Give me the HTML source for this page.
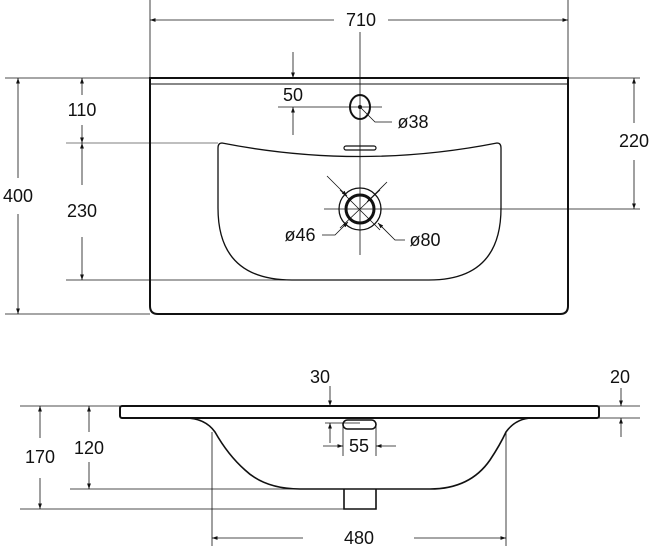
<!DOCTYPE html>
<html><head><style>
html,body{margin:0;padding:0;background:#fff;}
svg{display:block;}
text{font-family:"Liberation Sans",sans-serif;font-size:18px;fill:#111;text-anchor:middle;}
</style></head><body>
<svg width="653" height="546" viewBox="0 0 653 546" xmlns="http://www.w3.org/2000/svg">
<defs>
<marker id="a" viewBox="0 0 10 10" refX="10" refY="5" markerWidth="7" markerHeight="7" orient="auto-start-reverse"><path d="M0,1.5 L10,5 L0,8.5 z" fill="#111"/></marker>
</defs>
<g stroke="#111" stroke-width="0.8" fill="none">
<line x1="150" y1="0" x2="150" y2="78"/><line x1="568" y1="0" x2="568" y2="78"/>
<line x1="150" y1="20" x2="334" y2="20" marker-start="url(#a)"/><line x1="388" y1="20" x2="568" y2="20" marker-end="url(#a)"/>
<line x1="360" y1="32" x2="360" y2="255"/>
<line x1="5" y1="78" x2="150" y2="78"/><line x1="5" y1="314" x2="150" y2="314"/>
<line x1="66" y1="143" x2="218" y2="143" stroke="#999" stroke-width="1.2"/>
<line x1="66" y1="280" x2="300" y2="280"/>
<line x1="18" y1="78" x2="18" y2="178" marker-start="url(#a)"/><line x1="18" y1="214" x2="18" y2="314" marker-end="url(#a)"/>
<line x1="82" y1="78" x2="82" y2="95" marker-start="url(#a)"/><line x1="82" y1="125" x2="82" y2="143" marker-end="url(#a)"/>
<line x1="82" y1="143" x2="82" y2="185" marker-start="url(#a)"/><line x1="82" y1="237" x2="82" y2="280" marker-end="url(#a)"/>
<line x1="568" y1="78" x2="640" y2="78"/><line x1="324" y1="209" x2="640" y2="209"/>
<line x1="634" y1="78" x2="634" y2="123" marker-start="url(#a)"/><line x1="634" y1="160" x2="634" y2="209" marker-end="url(#a)"/>
<line x1="278" y1="107" x2="382" y2="107"/>
<line x1="293" y1="52" x2="293" y2="78" marker-end="url(#a)"/><line x1="293" y1="135" x2="293" y2="107" marker-end="url(#a)"/>
<polyline points="360,107 375,122 392,122"/>
<line x1="327" y1="176" x2="347" y2="196" marker-end="url(#a)"/><line x1="387" y1="182" x2="367" y2="202" marker-end="url(#a)"/>
<polyline points="322,235 335,235 348,222" marker-end="url(#a)"/>
<polyline points="405,240 395,240 378,223" marker-end="url(#a)"/>
<line x1="340" y1="190" x2="380" y2="230"/><line x1="340" y1="228" x2="380" y2="190"/>
</g>
<g stroke="#111" fill="none">
<path d="M150,78 L568,78 L568,306 Q568,314 560,314 L158,314 Q150,314 150,306 Z" stroke-width="2"/>
<line x1="150" y1="84" x2="568" y2="84" stroke-width="1"/>
<ellipse cx="360" cy="107" rx="10" ry="12" stroke-width="2"/>
<circle cx="360" cy="107" r="1.5" fill="#111"/>
<path d="M222,143 Q360,170 497,143 Q501,143 501,148 L501,208 Q501,280 429,280 L292,280 Q218,280 218,208 L218,148 Q218,143 222,143 Z" stroke-width="1.3"/>
<rect x="344" y="146" width="32" height="4" rx="2" stroke-width="1.2"/>
<circle cx="360" cy="209" r="21" stroke-width="1.3"/>
<circle cx="360" cy="209" r="14" stroke-width="3"/>
</g>
<g>
<text x="361" y="26">710</text>
<text x="293" y="101">50</text>
<text x="82" y="116">110</text>
<text x="18" y="202">400</text>
<text x="82" y="217">230</text>
<text x="634" y="147">220</text>
<text x="413" y="128">ø38</text>
<text x="300" y="241">ø46</text>
<text x="425" y="246">ø80</text>
</g>
<g stroke="#111" stroke-width="0.8" fill="none">
<line x1="20" y1="406" x2="120" y2="406"/><line x1="70" y1="489" x2="300" y2="489"/><line x1="20" y1="509" x2="344" y2="509"/>
<line x1="40" y1="406" x2="40" y2="438" marker-start="url(#a)"/><line x1="40" y1="478" x2="40" y2="509" marker-end="url(#a)"/>
<line x1="89" y1="406" x2="89" y2="432" marker-start="url(#a)"/><line x1="89" y1="462" x2="89" y2="489" marker-end="url(#a)"/>
<line x1="330" y1="386" x2="330" y2="406" marker-end="url(#a)"/>
<line x1="599" y1="406" x2="640" y2="406"/><line x1="599" y1="418" x2="640" y2="418"/>
<line x1="621" y1="388" x2="621" y2="406" marker-end="url(#a)"/><line x1="621" y1="437" x2="621" y2="418" marker-end="url(#a)"/>
<line x1="325" y1="423" x2="360" y2="423"/>
<line x1="330" y1="443" x2="330" y2="423" marker-end="url(#a)"/>
<line x1="343" y1="425" x2="343" y2="456"/><line x1="376" y1="425" x2="376" y2="456"/>
<line x1="323" y1="446" x2="343" y2="446" marker-end="url(#a)"/><line x1="396" y1="446" x2="376" y2="446" marker-end="url(#a)"/>
<line x1="212" y1="432" x2="212" y2="546"/><line x1="506" y1="432" x2="506" y2="546"/>
<line x1="212" y1="538" x2="303" y2="538" marker-start="url(#a)"/><line x1="414" y1="538" x2="506" y2="538" marker-end="url(#a)"/>
</g>
<g stroke="#111" fill="none" stroke-width="2">
<rect x="120" y="406" width="479" height="12" rx="2"/>
<path d="M185,418 Q205,418 215,432 Q228,455 245,470 Q265,489 300,489 L430,489 Q470,489 490,460 Q500,445 506,432 Q516,418 533,418" stroke-width="1.6"/>
<path d="M344,489 L344,509 L376,509 L376,489" stroke-width="1.6"/>
<rect x="343" y="420" width="33" height="9" rx="4.5" stroke-width="1.6"/>
</g>
<g>
<text x="320" y="383">30</text>
<text x="620" y="383">20</text>
<text x="89" y="454">120</text>
<text x="40" y="463">170</text>
<text x="359" y="452">55</text>
<text x="359" y="544">480</text>
</g>
</svg>
</body></html>
